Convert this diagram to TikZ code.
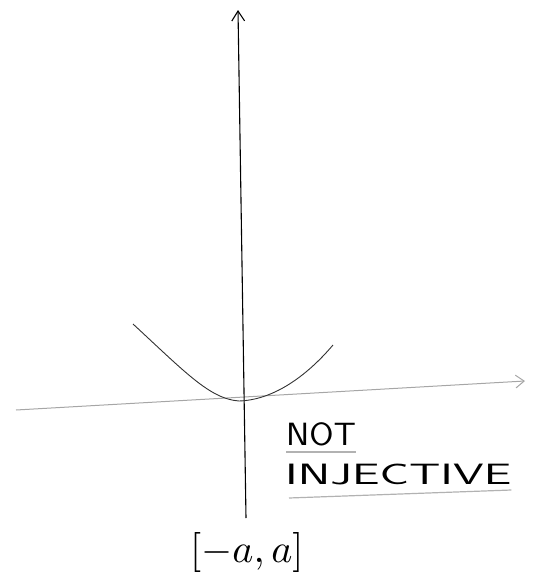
\documentclass[tikz,border=0pt]{standalone}
\usepackage{tikz}
\usetikzlibrary{positioning, arrows.meta}
\tikzset{
  ax/.style={-{Straight Barb[length=3.5mm, width=4.5mm]}, line width=1.1pt},
  hax/.style={-{Straight Barb[length=3mm, width=4.5mm]}, line width=1pt, gray!70},
  curve/.style={line width=0.9pt, black!80},
  ul/.style={line width=1.2pt, gray!60},
  hw/.style={font=\fontsize{28}{30}\selectfont\sffamily, inner sep=0pt, anchor=south west}
}

\begin{document}
\begin{tikzpicture}[x=1pt, y=-1pt]
  \useasboundingbox (0,0) rectangle (537,581);
  % axes
  \coordinate (ybot) at (246,518);
  \coordinate (ytop) at (238,10);
  \coordinate (xleft) at (16,410);
  \coordinate (xright) at (525,381);
  \coordinate (org) at (239,401);
  \draw[hax] (xleft) -- (xright);
  \draw[ax] (ybot) -- (ytop);
  % parabola
  \coordinate (pl) at (133,324);
  \coordinate (pr) at (333,345);
  \draw[curve] (pl) .. controls (185,372) and (210,399) .. (org)
               .. controls (272,400) and (305,378) .. (pr);
  % labels
  \node[hw] (notlbl) at (286,446) {\scalebox{1.25}[1.15]{NOT}};
  \node[hw] (injlbl) at (285,485) {\scalebox{1.75}[1.05]{INJECTIVE}};
  \draw[ul] (notlbl.south west) ++(0,6) coordinate (n1) -- (notlbl.south east |- n1);
  \draw[ul] (injlbl.south west) ++(4,13) coordinate (i1) -- ([yshift=8pt]injlbl.south east |- i1);
  \node[anchor=south west, inner sep=0pt] (intv) at (190,573) {\scalebox{4}{$[-a,a]$}};
\end{tikzpicture}
\end{document}
